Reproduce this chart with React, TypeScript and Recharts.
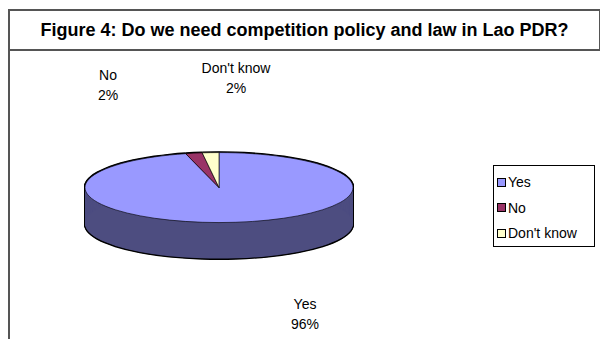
import { PieChart, Pie, Cell } from "recharts";

const categories = ["Yes", "No", "Don't know"];
const shares = [96, 2, 2];

const TOP_COLORS = ["#9999ff", "#993366", "#ffffcc"];
const SIDE_COLORS = ["#4d4d80", "#4d1a33", "#80806b"];

// where Excel put each data label (page px, centre of the text block)
const LABEL_POS = [
  { x: 305, y: 303 },
  { x: 108, y: 74 },
  { x: 236, y: 67 },
];

const data = categories.map((name, i) => ({ name, value: shares[i] }));

const FONT = "'Liberation Sans', Arial, sans-serif";

// 3d look: flatten a normal pie with scaleY and stack copies for the rim
const SQUASH = 35 / 134;
const R = 134;
const CX = 150;
const CY = 140;
const DEPTH = Math.round(36 / SQUASH);
const STEP = 2;

const range = (from: number, to: number) => {
  const out: number[] = [];
  for (let v = from; v <= to; v += STEP) out.push(v);
  return out;
};

function Pie3D() {
  const outline = range(-4, DEPTH + 4);
  const rim = range(4, DEPTH);
  return (
    <div
      style={{
        position: "absolute",
        left: 69,
        top: 188 - SQUASH * CY,
        transform: `scaleY(${SQUASH})`,
        transformOrigin: "0 0",
      }}
    >
      <PieChart
        width={300}
        height={CY + DEPTH + R + 12}
        margin={{ top: 0, right: 0, bottom: 0, left: 0 }}
      >
        {outline.map((off) => (
          <Pie
            key={`o${off}`}
            data={data}
            dataKey="value"
            cx={CX}
            cy={CY + off}
            outerRadius={R + 1}
            startAngle={90}
            endAngle={-270}
            fill="#000"
            stroke="none"
            isAnimationActive={false}
          />
        ))}
        {rim.map((off) => (
          <Pie
            key={`r${off}`}
            data={data}
            dataKey="value"
            cx={CX}
            cy={CY + off}
            outerRadius={R}
            startAngle={90}
            endAngle={-270}
            stroke="none"
            isAnimationActive={false}
          >
            {data.map((d, i) => (
              <Cell key={d.name} fill={SIDE_COLORS[i]} />
            ))}
          </Pie>
        ))}
        <Pie
          data={data}
          dataKey="value"
          cx={CX}
          cy={CY}
          outerRadius={R}
          startAngle={90}
          endAngle={-270}
          stroke="#000"
          strokeWidth={1}
          isAnimationActive={false}
        >
          {data.map((d, i) => (
            <Cell key={d.name} fill={TOP_COLORS[i]} />
          ))}
        </Pie>
      </PieChart>
    </div>
  );
}

export default function App() {
  return (
    <div
      style={{
        position: "absolute",
        left: 0,
        top: 0,
        width: 600,
        height: 339,
        overflow: "hidden",
        background: "#fff",
        fontFamily: FONT,
        color: "#000",
      }}
    >
      <div
        style={{
          position: "absolute",
          left: 8,
          top: 9,
          width: 589,
          height: 38,
          border: "2px solid #555",
          display: "flex",
          alignItems: "center",
          justifyContent: "center",
          fontWeight: "bold",
          fontSize: 18,
        }}
      >
        Figure 4: Do we need competition policy and law in Lao PDR?
      </div>
      <div
        style={{
          position: "absolute",
          left: 8,
          top: 49,
          width: 0,
          height: 300,
          borderLeft: "2px solid #555",
        }}
      />

      <Pie3D />

      {data.map((d, i) => (
        <div
          key={d.name}
          style={{
            position: "absolute",
            left: LABEL_POS[i].x - 60,
            top: LABEL_POS[i].y - 9,
            width: 120,
            textAlign: "center",
            fontSize: 14,
            lineHeight: "20px",
          }}
        >
          <div>{d.name}</div>
          <div>{d.value}%</div>
        </div>
      ))}

      <div
        style={{
          position: "absolute",
          left: 493,
          top: 165,
          width: 100,
          height: 80,
          border: "1px solid #000",
          fontSize: 14,
        }}
      >
        {data.map((d, i) => (
          <div
            key={d.name}
            style={{
              position: "absolute",
              left: 3,
              top: 8 + i * 25.5,
              display: "flex",
              alignItems: "center",
              whiteSpace: "nowrap",
              height: 16,
            }}
          >
            <span
              style={{
                display: "inline-block",
                width: 7,
                height: 7,
                border: "1px solid #000",
                background: TOP_COLORS[i],
                marginRight: 2,
              }}
            />
            {d.name}
          </div>
        ))}
      </div>
    </div>
  );
}
